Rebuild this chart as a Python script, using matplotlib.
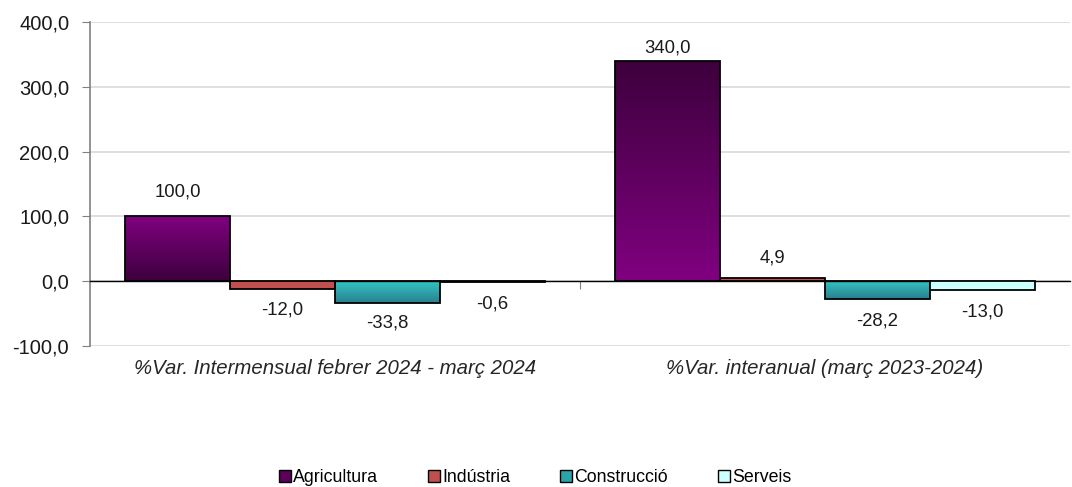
import matplotlib
matplotlib.use("Agg")
import matplotlib.pyplot as plt
import numpy as np
from matplotlib.patches import Patch
from matplotlib.colors import LinearSegmentedColormap
import matplotlib.transforms as mtransforms

plt.rcParams['font.family'] = ['Liberation Sans', 'DejaVu Sans']

categories = ["%Var. Intermensual febrer 2024 - març 2024", "%Var. interanual (març 2023-2024)"]
series = ["Agricultura", "Indústria", "Construcció", "Serveis"]
agricultura = [100.0, 340.0]
industria = [-12.0, 4.9]
construccio = [-33.8, -28.2]
serveis = [-0.6, -13.0]
yticks = [-100, 0, 100, 200, 300, 400]

values = [agricultura, industria, construccio, serveis]
# label offsets in pixels (dy from bar end), styling only
label_dy = [[24, 13], [-21, 20], [-20, -22], [-22, -22]]

fig = plt.figure(figsize=(10.72, 4.87), dpi=100)
ax = fig.add_axes([90/1072, 1-346/487, (1070-90)/1072, (346-22)/487])

ax.set_ylim(-100, 400)
ax.set_xlim(-0.5, 1.5)
ax.set_yticks(yticks)
ax.set_yticklabels([f"{v:.1f}".replace(".", ",") for v in yticks], fontsize=14.5, color="#1a1a1a")
ax.yaxis.grid(True, color="#d9d9d9", linewidth=1.2)
ax.set_axisbelow(True)
for s in ["top", "right"]:
    ax.spines[s].set_visible(False)
ax.spines["left"].set_color("#808080")
ax.spines["left"].set_linewidth(1.2)
ax.spines["bottom"].set_position(("data", 0))
ax.spines["bottom"].set_color("black")
ax.spines["bottom"].set_linewidth(1.0)
ax.set_xticks([0.5])
ax.set_xticklabels([])
ax.tick_params(axis="x", length=6, color="#808080", direction="out")
ax.tick_params(axis="y", length=6, color="#808080", pad=9)

w = 105/490
offsets = [-1.5, -0.5, 0.5, 1.5]
x = np.arange(len(categories))

purple_dark = "#3d003d"
purple = "#800080"
teal_top = "#33c6c6"
teal_bot = "#2a7f8c"
solid = {1: "#c0504d", 3: "#ccffff"}

for i, vals in enumerate(values):
    bars = ax.bar(x + offsets[i]*w, vals, width=w, edgecolor="black", linewidth=1.3,
                  facecolor=solid.get(i, "none"), zorder=3)
    for j, b in enumerate(bars):
        bx, by = b.get_x(), b.get_y()
        bw, bh = b.get_width(), b.get_height()
        y0, y1 = min(by, by+bh), max(by, by+bh)
        if i == 0:
            if j == 0:
                cols = [purple_dark, purple]  # bottom -> top
            else:
                cols = [purple, purple_dark]
        elif i == 2:
            cols = [teal_bot, teal_top]
        else:
            cols = None
        if cols is not None:
            cmap = LinearSegmentedColormap.from_list("g", cols)
            grad = np.linspace(0, 1, 256).reshape(-1, 1)
            im = ax.imshow(grad, cmap=cmap, origin="lower", aspect="auto",
                           extent=[bx, bx+bw, y0, y1], zorder=2.5)
            im.set_clip_path(b)
        v = vals[j]
        ax.annotate(f"{v:.1f}".replace(".", ","), xy=(b.get_x()+bw/2, v),
                    xytext=(0, label_dy[i][j]*0.72), textcoords="offset points",
                    ha="center", va="center", fontsize=13.3, color="#1a1a1a", zorder=5)

ax.set_xlim(-0.5, 1.5)
ax.set_ylim(-100, 400)

trans = mtransforms.blended_transform_factory(ax.transData, fig.transFigure)
for k, c in enumerate(categories):
    ax.text(k, 1-369/487, c, transform=trans, ha="center", va="center",
            fontsize=14.7, style="italic", color="#262626")

legend_cols = ["#5c005c", "#c0504d", "#2aa3aa", "#ccffff"]
handles = [Patch(facecolor=c, edgecolor="black", linewidth=1.0) for c in legend_cols]
fig.legend(handles, series, loc="center", bbox_to_anchor=(535/1072, 1-478/487), ncol=4,
           frameon=False, fontsize=12.8, handlelength=0.68, handleheight=0.68,
           handletextpad=0.12, columnspacing=2.8, borderpad=0)

fig.savefig("out.png", dpi=100)
